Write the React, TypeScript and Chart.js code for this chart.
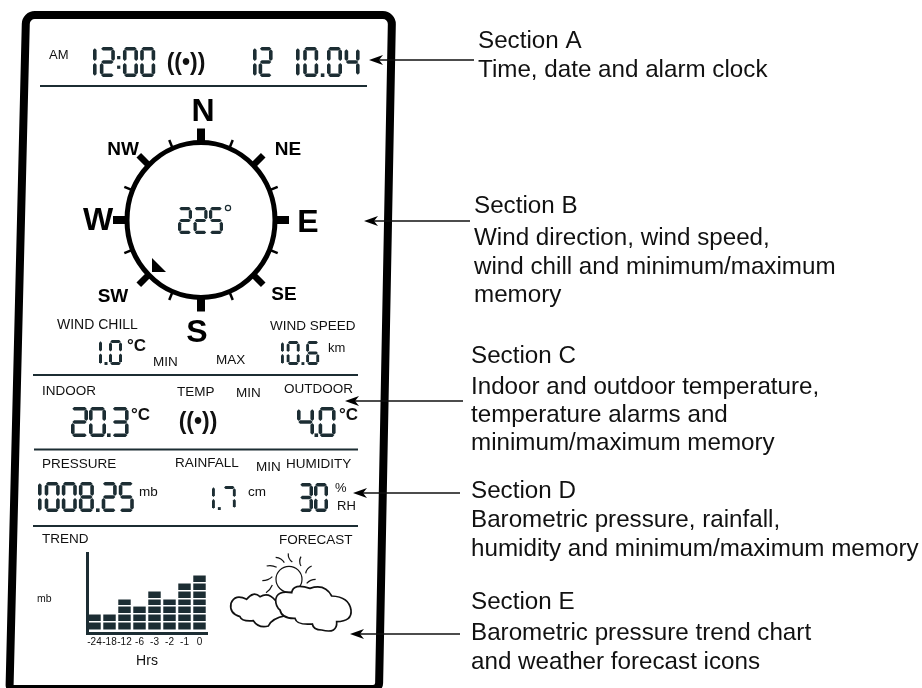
import React, { useEffect, useRef } from "react";
import { Chart, registerables } from "chart.js";

Chart.register(...registerables);

// Trend chart data (hours before now, number of lit LCD segments)
const trendHours = ["-24", "-18", "-12", "-6", "-3", "-2", "-1", "0"];
const trendSegments = [2, 2, 4, 3, 5, 4, 6, 7];

// LCD readouts
const timeReadout = "12:00";
const dayReadout = "12";
const dateReadout = "10.04";
const directionReadout = "225";
const windChillReadout = "1.0";
const windSpeedReadout = "10.6";
const indoorReadout = "20.3";
const outdoorReadout = "4.0";
const pressureReadout = "1008.25";
const rainfallReadout = "1.7";
const humidityReadout = "30";

// Callouts
const sectionA = ["Section A", "Time, date and alarm clock"];
const sectionB = ["Section B", "Wind direction, wind speed,", "wind chill and minimum/maximum", "memory"];
const sectionC = ["Section C", "Indoor and outdoor temperature,", "temperature alarms and", "minimum/maximum memory"];
const sectionD = ["Section D", "Barometric pressure, rainfall,", "humidity and minimum/maximum memory"];
const sectionE = ["Section E", "Barometric pressure trend chart", "and weather forecast icons"];

const INK = "#1c2d33";
const FONT = '"Liberation Sans", Arial, sans-serif';

const SEGMENTS: Record<string, string> = {
  "0": "abcdef", "1": "bc", "2": "abged", "3": "abgcd", "4": "fgbc",
  "5": "afgcd", "6": "afgedc", "7": "abc", "8": "abcdefg", "9": "abcdfg",
};

function hexH(c: CanvasRenderingContext2D, x0: number, x1: number, y: number, t: number) {
  c.beginPath();
  c.moveTo(x0, y);
  c.lineTo(x0 + t / 2, y - t / 2);
  c.lineTo(x1 - t / 2, y - t / 2);
  c.lineTo(x1, y);
  c.lineTo(x1 - t / 2, y + t / 2);
  c.lineTo(x0 + t / 2, y + t / 2);
  c.closePath();
  c.fill();
}
function hexV(c: CanvasRenderingContext2D, x: number, y0: number, y1: number, t: number) {
  c.beginPath();
  c.moveTo(x, y0);
  c.lineTo(x + t / 2, y0 + t / 2);
  c.lineTo(x + t / 2, y1 - t / 2);
  c.lineTo(x, y1);
  c.lineTo(x - t / 2, y1 - t / 2);
  c.lineTo(x - t / 2, y0 + t / 2);
  c.closePath();
  c.fill();
}

function drawLcd(c: CanvasRenderingContext2D, text: string, x: number, y: number, w: number, h: number, gap: number) {
  const t = Math.max(2.6, h * 0.12);
  c.fillStyle = INK;
  let cx = x;
  for (const ch of text) {
    if (ch === ".") {
      c.fillRect(cx, y + h - t, t, t);
      cx += t + gap;
      continue;
    }
    if (ch === ":") {
      c.fillRect(cx, y + h * 0.3, t * 0.9, t * 0.9);
      c.fillRect(cx, y + h * 0.62, t * 0.9, t * 0.9);
      cx += t + gap;
      continue;
    }
    const dw = ch === "1" ? t + 2 : w;
    const on = SEGMENTS[ch] ?? "";
    const g = 1.3;
    const L = cx + t / 2;
    const R = cx + dw - t / 2;
    const mid = y + h / 2;
    if (on.includes("a")) hexH(c, cx + g, cx + dw - g, y + t / 2, t);
    if (on.includes("g")) hexH(c, cx + g, cx + dw - g, mid, t);
    if (on.includes("d")) hexH(c, cx + g, cx + dw - g, y + h - t / 2, t);
    if (ch === "1") {
      hexV(c, cx + dw / 2, y + g, mid - g * 0.8, t);
      hexV(c, cx + dw / 2, mid + g * 0.8, y + h - g, t);
    } else {
      if (on.includes("f")) hexV(c, L, y + g + 1, mid - g * 0.8, t);
      if (on.includes("b")) hexV(c, R, y + g + 1, mid - g * 0.8, t);
      if (on.includes("e")) hexV(c, L, mid + g * 0.8, y + h - g - 1, t);
      if (on.includes("c")) hexV(c, R, mid + g * 0.8, y + h - g - 1, t);
    }
    cx += dw + gap;
  }
}

function label(c: CanvasRenderingContext2D, s: string, x: number, y: number, size: number, weight = "normal", align: CanvasTextAlign = "left", color = "#111") {
  c.font = `${weight} ${size}px ${FONT}`;
  c.fillStyle = color;
  c.textAlign = align;
  c.textBaseline = "middle";
  c.fillText(s, x, y);
}

function drawFrame(c: CanvasRenderingContext2D) {
  c.beginPath();
  c.moveTo(60, 15);
  c.arcTo(392, 15, 379, 700, 9);
  c.arcTo(379, 689, 9.8, 689, 6);
  c.lineTo(9.8, 689);
  c.arcTo(9.5, 689, 26, 15, 4);
  c.arcTo(26, 15, 60, 15, 9);
  c.closePath();
  c.strokeStyle = "#000";
  c.lineWidth = 8;
  c.stroke();
}

function drawDividers(c: CanvasRenderingContext2D) {
  c.strokeStyle = INK;
  c.lineWidth = 2;
  const rows: number[][] = [[40, 367, 86], [33, 358, 375], [34, 358, 449.5], [33, 358, 526]];
  for (const [a, b, y] of rows) {
    c.beginPath();
    c.moveTo(a, y);
    c.lineTo(b, y);
    c.stroke();
  }
}

function drawCompass(c: CanvasRenderingContext2D) {
  const cx = 201, cy = 220, rx = 74, ry = 77.5;
  c.strokeStyle = "#000";
  c.lineWidth = 5;
  c.beginPath();
  c.ellipse(cx, cy, rx, ry, 0, 0, Math.PI * 2);
  c.stroke();
  for (let i = 0; i < 16; i++) {
    const a = (i * Math.PI) / 8;
    const thick = i % 2 === 0;
    const main = i % 4 === 0;
    const sx = Math.sin(a), cy2 = -Math.cos(a);
    const inner = 1;
    const out = main ? 14 : i % 2 === 0 ? 14 : 9;
    c.lineWidth = main ? 8 : thick ? 6.5 : 2.5;
    c.beginPath();
    c.moveTo(cx + sx * (rx + inner), cy + cy2 * (ry + inner));
    c.lineTo(cx + sx * (rx + out), cy + cy2 * (ry + out));
    c.stroke();
  }
  c.fillStyle = "#000";
  c.beginPath();
  c.moveTo(152, 258);
  c.lineTo(166, 272);
  c.lineTo(152, 272);
  c.closePath();
  c.fill();
  label(c, "N", 203, 112, 32, "bold", "center", "#000");
  label(c, "W", 98, 221, 32, "bold", "center", "#000");
  label(c, "E", 308, 223, 32, "bold", "center", "#000");
  label(c, "S", 197, 333, 32, "bold", "center", "#000");
  label(c, "NW", 123, 150, 19, "bold", "center", "#000");
  label(c, "NE", 288, 150, 19, "bold", "center", "#000");
  label(c, "SE", 284, 295, 19, "bold", "center", "#000");
  label(c, "SW", 113, 297, 19, "bold", "center", "#000");
  drawLcd(c, directionReadout, 178, 207, 14, 27, 1.5);
  c.lineWidth = 1.2;
  c.strokeStyle = INK;
  c.beginPath();
  c.arc(228, 208, 2.6, 0, Math.PI * 2);
  c.stroke();
}

function cloud(c: CanvasRenderingContext2D, d: number[][], close: boolean) {
  const X = (v: number) => 225 + v / 3;
  const Y = (v: number) => 550 + v / 3;
  c.beginPath();
  c.moveTo(X(d[0][0]), Y(d[0][1]));
  for (let i = 1; i < d.length; i++) {
    c.quadraticCurveTo(X(d[i][0]), Y(d[i][1]), X(d[i][2]), Y(d[i][3]));
  }
  if (close) c.closePath();
  c.fillStyle = "#fff";
  c.fill();
  c.lineWidth = 1.7;
  c.strokeStyle = "#111";
  c.stroke();
}

function drawForecast(c: CanvasRenderingContext2D) {
  const X = (v: number) => 225 + v / 3;
  const Y = (v: number) => 550 + v / 3;
  c.strokeStyle = "#111";
  c.lineWidth = 1.2;
  c.beginPath();
  c.arc(X(192), Y(88), 13, 0, Math.PI * 2);
  c.stroke();
  const rays = [
    [125, 48, 140, 44, 155, 52], [152, 22, 170, 24, 178, 38], [190, 10, 188, 26, 202, 36],
    [228, 20, 220, 34, 228, 48], [260, 48, 245, 54, 242, 70], [272, 88, 256, 88, 245, 100],
    [112, 92, 130, 92, 142, 80], [123, 128, 136, 120, 142, 105],
  ];
  for (const [a, b, m, n, p, q] of rays) {
    c.beginPath();
    c.moveTo(X(a), Y(b));
    c.quadraticCurveTo(X(m), Y(n), X(p), Y(q));
    c.stroke();
  }
  cloud(c, [[182, 197], [140, 205, 130, 228], [100, 235, 85, 212], [50, 215, 45, 200], [12, 190, 18, 160], [30, 130, 65, 148], [85, 122, 105, 140], [130, 125, 150, 150], [180, 180, 182, 197]], true);
  cloud(c, [[152, 150], [155, 120, 200, 128], [205, 98, 255, 115], [300, 100, 320, 138], [372, 140, 378, 180], [382, 214, 335, 215], [338, 252, 290, 240], [265, 240, 262, 222], [215, 226, 210, 205], [170, 206, 165, 180], [152, 170, 152, 150]], true);
}

function arrow(c: CanvasRenderingContext2D, tip: number, end: number, y: number) {
  c.strokeStyle = "#111";
  c.lineWidth = 1.5;
  c.beginPath();
  c.moveTo(tip + 5, y);
  c.lineTo(end, y);
  c.stroke();
  c.fillStyle = "#000";
  c.beginPath();
  c.moveTo(tip, y);
  c.lineTo(tip + 14, y - 5);
  c.lineTo(tip + 10, y);
  c.lineTo(tip + 14, y + 5);
  c.closePath();
  c.fill();
}

function callout(c: CanvasRenderingContext2D, lines: string[], x: number, ys: number[]) {
  lines.forEach((s, i) => label(c, s, x, ys[i], 24.2, "normal", "left", "#111"));
}

const panelPlugin = {
  id: "panel",
  beforeDraw(chart: any) {
    const c: CanvasRenderingContext2D = chart.ctx;
    c.save();
    c.fillStyle = "#fff";
    c.fillRect(0, 0, chart.width, chart.height);
    drawFrame(c);
    drawDividers(c);
    // Section A
    label(c, "AM", 49, 55, 13);
    drawLcd(c, timeReadout, 92, 47, 15, 30, 2.25);
    label(c, "((•))", 186, 64, 23, "bold", "center");
    drawLcd(c, dayReadout, 252, 47, 14, 30, 1);
    drawLcd(c, dateReadout, 295, 47, 15, 30, 2.6);
    // Section B
    drawCompass(c);
    label(c, "WIND CHILL", 57, 325, 14);
    label(c, "WIND SPEED", 270, 326, 13.5);
    drawLcd(c, windChillReadout, 98, 340, 13, 25, 1.5);
    label(c, "°C", 127, 346, 17, "bold");
    label(c, "MIN", 153, 362, 13.5);
    label(c, "MAX", 216, 360, 13.5);
    drawLcd(c, windSpeedReadout, 280, 341, 13, 24, 1.8);
    label(c, "km", 328, 348, 13);
    // Section C
    label(c, "INDOOR", 42, 391, 13.5);
    label(c, "TEMP", 177, 392, 13.5);
    label(c, "MIN", 236, 393, 13.5);
    label(c, "OUTDOOR", 284, 389, 13.5);
    drawLcd(c, indoorReadout, 71, 407, 17, 30, 1);
    label(c, "°C", 131, 415, 17, "bold");
    label(c, "((•))", 198, 423, 23, "bold", "center");
    drawLcd(c, outdoorReadout, 297, 407, 17, 30, 0.5);
    label(c, "°C", 339, 415, 17, "bold");
    // Section D
    label(c, "PRESSURE", 42, 464, 13.5);
    label(c, "RAINFALL", 175, 463, 13.5);
    label(c, "MIN", 256, 467, 13.5);
    label(c, "HUMIDITY", 286, 464, 13.5);
    drawLcd(c, pressureReadout, 37, 482, 15, 30, 2.1);
    label(c, "mb", 139, 492, 13.5);
    drawLcd(c, rainfallReadout, 211, 486, 13, 24, 2);
    label(c, "cm", 248, 492, 13.5);
    drawLcd(c, humidityReadout, 299, 483, 14, 29, 1);
    label(c, "%", 335, 488, 13);
    label(c, "RH", 337, 506, 13);
    // Section E
    label(c, "TREND", 42, 539, 13.5);
    label(c, "FORECAST", 279, 540, 13.5);
    label(c, "mb", 37, 599, 10.5);
    drawForecast(c);
    // Callouts
    arrow(c, 369, 474, 60);
    arrow(c, 364, 470, 221);
    arrow(c, 345, 463, 401);
    arrow(c, 353, 460, 493);
    arrow(c, 350, 460, 634);
    callout(c, sectionA, 478, [41, 70]);
    callout(c, sectionB, 474, [206, 238, 267, 295]);
    callout(c, sectionC, 471, [356, 387, 415, 443]);
    callout(c, sectionD, 471, [491, 520, 549]);
    callout(c, sectionE, 471, [602, 633, 662]);
    c.restore();
  },
};

export default function App() {
  const ref = useRef<HTMLCanvasElement>(null);
  useEffect(() => {
    if (!ref.current) return;
    const chart = new Chart(ref.current, {
      type: "bar",
      data: {
        labels: trendHours,
        datasets: [{
          data: trendSegments,
          backgroundColor: INK,
          categoryPercentage: 1,
          barPercentage: 0.83,
        }],
      },
      plugins: [panelPlugin],
      options: {
        responsive: false,
        animation: false,
        layout: { padding: { left: 87, top: 553, right: 715, bottom: 18.5 } },
        plugins: { legend: { display: false }, tooltip: { enabled: false } },
        scales: {
          x: {
            afterFit: (s: any) => { s.height = 36.5; },
            grid: { display: false, drawTicks: false },
            border: { color: INK, width: 3, z: 2 },
            ticks: { color: "#111", padding: 3, autoSkip: false, maxRotation: 0, font: { family: FONT, size: 10 } },
            title: { display: true, text: "Hrs", color: "#111", font: { family: FONT, size: 14 }, padding: { top: 6, bottom: 0 } },
          },
          y: {
            min: -0.45,
            max: 9.81,
            afterFit: (s: any) => { s.width = 0; },
            grid: {
              z: 1,
              drawTicks: false,
              lineWidth: 1.4,
              color: (ctx: any) => (Number.isInteger(ctx.tick?.value) && ctx.tick.value >= 0 ? "#fff" : "rgba(0,0,0,0)"),
            },
            border: { color: INK, width: 3, z: 2 },
            ticks: { display: false, stepSize: 1 },
          },
        },
      },
    } as any);
    return () => chart.destroy();
  }, []);
  return (
    <div style={{ position: "absolute", left: 0, top: 0, width: 922, height: 688, overflow: "hidden" }}>
      <canvas ref={ref} width={922} height={688} style={{ display: "block" }}
        role="img"
        aria-label={`Weather station display: ${timeReadout} ${dayReadout} ${dateReadout}, wind ${directionReadout}°, wind chill ${windChillReadout}°C, wind speed ${windSpeedReadout} km, indoor ${indoorReadout}°C, outdoor ${outdoorReadout}°C, pressure ${pressureReadout} mb, rainfall ${rainfallReadout} cm, humidity ${humidityReadout}% RH`} />
    </div>
  );
}
